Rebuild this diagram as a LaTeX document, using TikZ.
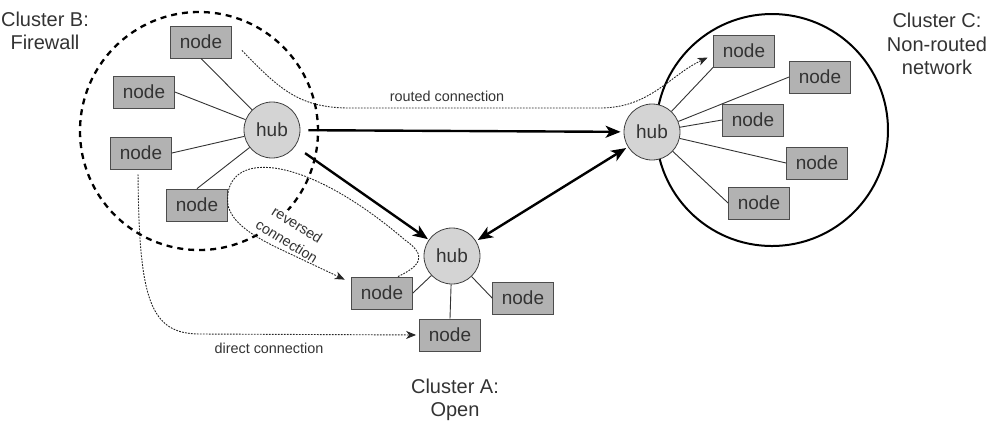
\documentclass[tikz,border=0pt]{standalone}
\usepackage{fontspec}
\setmainfont{Liberation Sans}
\usetikzlibrary{arrows.meta}

\tikzset{
    hub/.style={draw=black!75, circle, fill=black!17, text=black!80, minimum size=28pt, inner sep=0pt, font=\fontsize{9.5}{11}\selectfont},
    host/.style={draw=black!70, fill=black!30, text=black!80, minimum width=30.5pt, minimum height=16pt, inner sep=0pt, font=\fontsize{9.5}{11}\selectfont},
    spoke/.style={draw=black!80, line width=0.45pt},
    firewall/.style={draw=black, circle, line width=1.15pt, dash pattern=on 3pt off 2.5pt},
    plainnet/.style={draw=black, circle, line width=1pt},
    trunk/.style={draw=black, line width=1.2pt},
    tip/.style={-{Stealth[length=7.5pt, width=6pt, inset=2pt]}},
    conn/.style={draw=black!85, line width=0.45pt, dash pattern=on 0.9pt off 0.6pt, -{Stealth[length=5pt, width=4pt, inset=1.5pt]}},
    caption/.style={align=center, text=black!80, font=\fontsize{10}{11.75}\selectfont},
    remark/.style={align=center, text=black!80, inner sep=1pt, font=\fontsize{7.2}{9.8}\selectfont}
}

\begin{document}
\begin{tikzpicture}[x=0.5pt, y=-0.5pt]

    % Page size of the figure (pixel coordinates, y going down).
    \useasboundingbox (0,0) rectangle (993,420);

    %% ------
    %% The nodes are positioned on fixed coordinates
    %% taken from the figure, clusters first,
    %% then the hubs with their nodes, then the connections
    %% ----

    % Cluster B
    \node[firewall, minimum size=119pt] (clusterB) at (199,131) {};
    \node[caption] (labelB) at (45,31) {Cluster B:\\Firewall};

    \node[hub] (hubB) at (272,130) {hub};
    \node[host] (b1) at (201,42) {node};
    \node[host] (b2) at (144,92) {node};
    \node[host] (b3) at (141,153) {node};
    \node[host] (b4) at (197,205) {node};
    \draw[spoke] (hubB) -- (b1.south);
    \draw[spoke] (hubB) -- (b2.east);
    \draw[spoke] (hubB) -- (b3.east);
    \draw[spoke] (hubB) -- (b4.north);

    % Cluster C
    \node[plainnet, minimum size=116pt] (clusterC) at (772,130) {};
    \node[caption] (labelC) at (937,44) {Cluster C:\\Non-routed\\network};

    \node[hub] (hubC) at (652,132) {hub};
    \node[host] (c1) at (744,51) {node};
    \node[host] (c2) at (820,77) {node};
    \node[host] (c3) at (753,120) {node};
    \node[host] (c4) at (817,163) {node};
    \node[host] (c5) at (759,203) {node};
    \draw[spoke] (hubC) -- (c1.south west);
    \draw[spoke] (hubC) -- (c2.west);
    \draw[spoke] (hubC) -- (c3.west);
    \draw[spoke] (hubC) -- (c4.west);
    \draw[spoke] (hubC) -- (c5.west);

    % Cluster A
    \node[caption] (labelA) at (455,400) {Cluster A:\\Open};

    \node[hub] (hubA) at (452,256) {hub};
    \node[host] (a1) at (382,293) {node};
    \node[host] (a2) at (523,298) {node};
    \node[host] (a3) at (450,335) {node};
    \draw[spoke] (hubA) -- (a1.east);
    \draw[spoke] (hubA) -- (a2.west);
    \draw[spoke] (hubA) -- (a3.north);

    % hub to hub
    \draw[trunk, tip, shorten <=4pt, shorten >=1.5pt] (hubB) -- (hubC);
    \draw[trunk, tip, shorten <=6pt, shorten >=0.5pt] (hubB) -- (hubA);
    \draw[trunk, {Stealth[length=7.5pt, width=6pt, inset=2pt]}-{Stealth[length=7.5pt, width=6pt, inset=2pt]}, shorten <=1pt, shorten >=1pt] (hubA) -- (hubC);

    % routed connection
    \draw[conn, shorten >=3pt] ([xshift=5pt, yshift=4pt]b1.south east)
        .. controls (280,90) and (300,108) .. (350,108) -- (600,108)
        .. controls (650,108) and (670,75) .. ([yshift=-2pt]c1.west);
    \node[remark] (routedText) at (447,96) {routed connection};

    % reversed connection (label hides the firewall line behind it)
    \node[remark, fill=white, rotate=-32] (reversedText) at (292,233) {reversed\\connection};
    \draw[conn, shorten >=3.5pt] ([xshift=8pt]a1.north)
        .. controls (420,266) and (428,256) .. (405,240)
        .. controls (300,150) and (222,150) .. (b4.east)
        .. controls (232,222) and (250,235) .. (282,250)
        -- ([yshift=-3pt]a1.north west);

    % direct connection
    \draw[conn, shorten <=2.5pt, shorten >=1.5pt] ([xshift=-1.5pt]b3.south)
        .. controls (139,300) and (150,334) .. (200,334) -- (a3.west);
    \node[remark] (directText) at (269,348) {direct connection};

\end{tikzpicture}
\end{document}
